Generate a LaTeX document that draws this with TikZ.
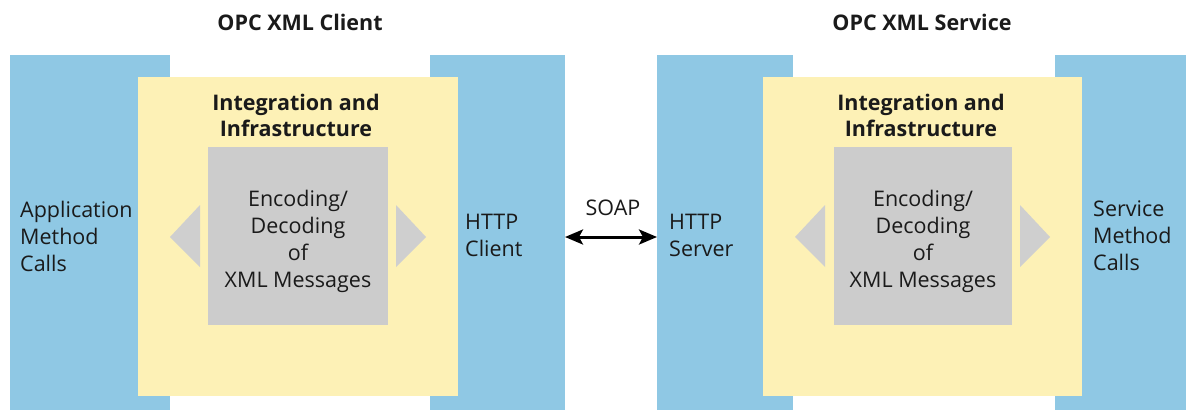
\documentclass[tikz,border=0pt]{standalone}
\usepackage{fontspec}
\setmainfont{Open Sans}
\usetikzlibrary{arrows.meta}
\definecolor{colblue}{HTML}{8FC8E4}
\definecolor{colyellow}{HTML}{FDF1B6}
\definecolor{colgray}{HTML}{CCCCCC}
\definecolor{coltri}{HTML}{CFCFCF}
\definecolor{coltext}{HTML}{1A1A1A}
\tikzset{
  box/.style={inner sep=0pt, outer sep=0pt, anchor=north west},
  bluebox/.style={box, fill=colblue},
  yellowbox/.style={box, fill=colyellow},
  graybox/.style={box, fill=colgray},
  tri/.style={fill=coltri},
  lbl/.style={text=coltext, font=\fontsize{21.5}{27}\selectfont, inner sep=0pt},
  ttl/.style={text=coltext, font=\fontsize{21.5}{26}\selectfont\bfseries, inner sep=0pt, align=center},
  soap/.style={draw=black, line width=3pt, {Stealth[length=18pt,width=15pt,inset=4pt]}-{Stealth[length=18pt,width=15pt,inset=4pt]}}
}
\begin{document}
\begin{tikzpicture}[x=1pt,y=-1pt]
\useasboundingbox (0,0) rectangle (1186,410);
\fill[white] (0,0) rectangle (1186,410);
% client side
\node[bluebox, minimum width=160pt, minimum height=355pt] (app) at (10,55) {};
\node[bluebox, minimum width=135pt, minimum height=355pt] (httpc) at (430,55) {};
\node[yellowbox, minimum width=320pt, minimum height=319pt] (intc) at (138,77) {};
\node[graybox, minimum width=180pt, minimum height=178pt] (encc) at (208,147) {};
\fill[tri] (200,205) -- (170,237) -- (200,267) -- cycle;
\fill[tri] (396,205) -- (426,237) -- (396,267) -- cycle;
% service side
\node[bluebox, minimum width=136pt, minimum height=355pt] (https) at (657,55) {};
\node[bluebox, minimum width=131pt, minimum height=355pt] (svc) at (1055,55) {};
\node[yellowbox, minimum width=319pt, minimum height=319pt] (ints) at (763,77) {};
\node[graybox, minimum width=178pt, minimum height=178pt] (encs) at (834,147) {};
\fill[tri] (825,205) -- (795,237) -- (825,267) -- cycle;
\fill[tri] (1020,205) -- (1050,237) -- (1020,267) -- cycle;
% titles
\node[ttl] (tc) at (300,22) {OPC XML Client};
\node[ttl] (ts) at (922,22) {OPC XML Service};
\node[ttl] (ic) at (296,115) {Integration and\\Infrastructure};
\node[ttl] (is) at (921,115) {Integration and\\Infrastructure};
% labels
\node[lbl, align=center] (ec) at (298,241) {Encoding/\\Decoding\\of\\XML Messages};
\node[lbl, align=center] (es) at (923,241) {Encoding/\\Decoding\\of\\XML Messages};
\node[lbl, align=left, anchor=west] (appl) at (20,236) {Application\\Method\\Calls};
\node[lbl, align=left, anchor=west] (httpcl) at (465,235) {HTTP\\Client};
\node[lbl, align=left, anchor=west] (httpsl) at (669,235) {HTTP\\Server};
\node[lbl, align=left, anchor=west] (svcl) at (1093,236) {Service\\Method\\Calls};
\node[lbl] (soapl) at (613,208) {SOAP};
\draw[soap] ([yshift=-4.5pt]httpc.east) -- ([yshift=-4.5pt]https.west);
\end{tikzpicture}
\end{document}
